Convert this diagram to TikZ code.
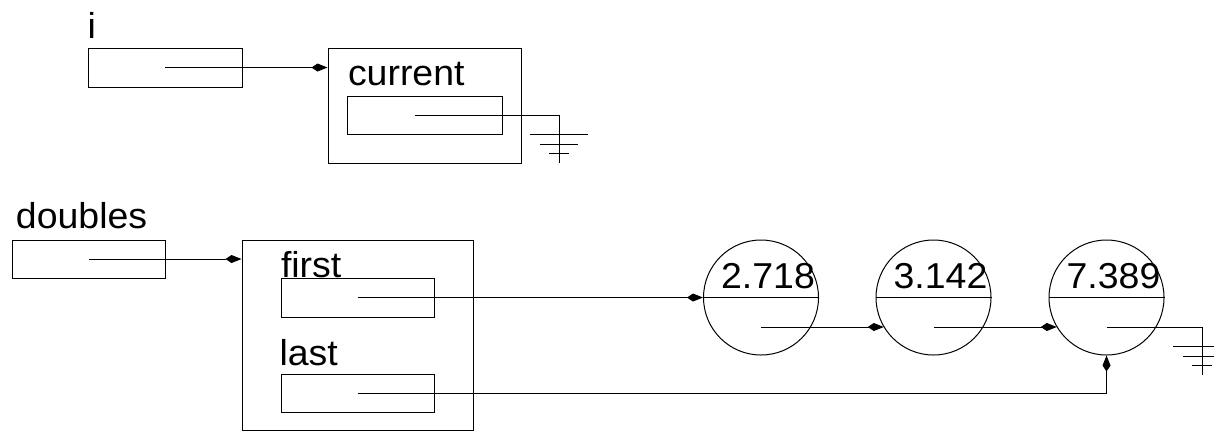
\documentclass[tikz,border=0pt]{standalone}
\usepackage{fontspec}
\setmainfont[FakeStretch=1.04]{Liberation Sans}
\usetikzlibrary{arrows.meta,positioning,calc}

\begin{document}
\begin{tikzpicture}[
  x=1pt,y=-1pt,
  font=\fontsize{36}{40}\selectfont,
  line width=1pt,
  >={Kite[length=16pt,width=8pt,inset=6pt]},
  ptr/.style={draw,minimum width=154pt,minimum height=39pt,inner sep=0pt},
  record/.style={draw,inner sep=0pt},
  cell/.style={draw,circle,minimum size=115pt,inner sep=0pt},
  lbl/.style={anchor=base west,inner sep=0pt},
  num/.style={anchor=base,inner sep=0pt},
  link/.style={->},
  ground/.pic={
    \draw (-29,0) -- (29,0);
    \draw (-19,10) -- (19,10);
    \draw (-10,19) -- (10,19);
    \draw (0,0) -- (0,29);
  }
]
\useasboundingbox (0,0) rectangle (1214,432);

% iterator i and its node
\node[lbl] (ilbl) at (87,38) {i};
\node[ptr] (ivar) at (165,67.5) {};
\node[record,minimum width=193pt,minimum height=115pt] (cur) at (424.5,105.5) {};
\node[lbl] (curlbl) at (347.5,85) {current};
\node[ptr,minimum width=155pt,minimum height=38pt] (curval) at (424.5,115) {};
\coordinate (gnd1) at (559,134);

\draw[link] (ivar.center) -- (ivar.center -| cur.west);
\draw ([xshift=-10pt]curval.center) -| (gnd1);
\pic at (gnd1) {ground};

% the list doubles
\node[lbl] (dlbl) at (15.5,228) {doubles};
\node[ptr,minimum width=153pt,minimum height=38pt] (dvar) at (88.5,259) {};
\node[record,minimum width=231pt,minimum height=190pt] (lst) at (357.5,335) {};
\node[lbl] (flbl) at (280.5,277) {first};
\node[ptr,minimum width=153pt] (fst) at (357.5,297.5) {};
\node[lbl] (llbl) at (279,365) {last};
\node[ptr,minimum width=153pt,minimum height=38pt] (lst2) at (357.5,393) {};

\node[cell] (c1) at (761,297.5) {};
\node[cell] (c2) at (933.5,297.5) {};
\node[cell] (c3) at (1106.5,297.5) {};
\foreach \c/\v in {c1/2.718,c2/3.142,c3/7.389}{
  \draw (\c.west) -- (\c.east);
  \node[num] at ($(\c.center)+(7,-9.5)$) {\v};
}
\coordinate (gnd2) at (1202,346);

\draw[link] (dvar.center) -- (dvar.center -| lst.west);
\draw[link] (fst.center) -- (c1.west);
\draw[link] ([yshift=-29.5pt]c1.center) -- ([yshift=-29.5pt]c1.center -| c2.211);
\draw[link] ([yshift=-29.5pt]c2.center) -- ([yshift=-29.5pt]c2.center -| c3.211);
\draw[link] (lst2.center) -| (c3.south);
\draw ([yshift=-29.5pt]c3.center) -| (gnd2);
\pic at (gnd2) {ground};
\end{tikzpicture}
\end{document}
